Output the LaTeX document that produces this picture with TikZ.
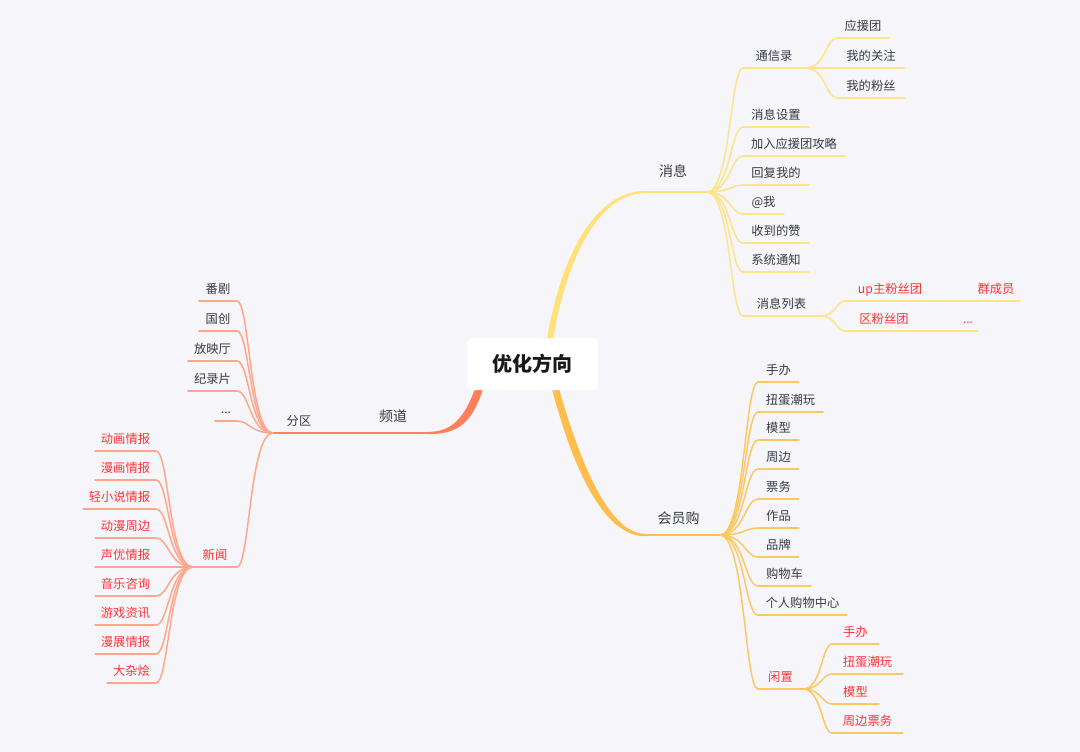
\documentclass[tikz,border=0pt]{standalone}
\usepackage{fontspec}
\setmainfont{Noto Sans CJK SC}
\usetikzlibrary{calc}
\definecolor{bg}{HTML}{F5F5FA}
\definecolor{txt}{HTML}{363B45}
\definecolor{mmred}{HTML}{FF3338}
\definecolor{orA}{HTML}{FF7F58}
\definecolor{orB}{HTML}{FFA68A}
\definecolor{yeA}{HTML}{FFE178}
\definecolor{yeB}{HTML}{FFE387}
\definecolor{goA}{HTML}{FFBE4C}
\definecolor{goB}{HTML}{FFC762}
\tikzset{
  leaftext/.style={font={\fontsize{9.2}{11}\selectfont}, text=txt, inner sep=0pt},
  redtext/.style={leaftext, text=mmred},
  bigtext/.style={font={\fontsize{10.5}{12}\selectfont}, text=txt, inner sep=0pt},
  ul/.style={line width=1.1pt, line cap=round},
  trunk/.style={line width=1.6pt, line cap=round},
  rootbox/.style={fill=white, rounded corners=4.5pt, minimum width=98.25pt,
    minimum height=39pt, inner sep=0pt, font={\fontsize{15}{18}\selectfont\bfseries}, text=black!90}
}
% name, x1, x2, y, text style, line colour, text
\newcommand\mmitem[7]{%
  \coordinate (#1L) at (#2,#4);
  \coordinate (#1R) at (#3,#4);
  \draw[ul,#6] (#1L) -- (#1R);
  \node[#5,anchor=base] (#1) at ({(#2+#3)/2},{#4-7.5}) {#7};
}
% colour, parent coordinate, child coordinate
\newcommand\mmlink[3]{%
  \edef\mmA{#2}\edef\mmB{#3}%
  \draw[ul,#1] let \p1=(\mmA), \p2=(\mmB) in
    (\p1) .. controls ({0.35*\x1+0.65*\x2},\y1) and ({0.35*\x1+0.65*\x2},\y2) .. (\p2);
}
\begin{document}
\begin{tikzpicture}[x=0.75pt,y=-0.75pt]
\useasboundingbox (0,0) rectangle (1080,752);
\fill[bg] (0,0) rectangle (1080,752);

% ---------- left: 频道 ----------
\coordinate (pdL) at (273,433);
\coordinate (pdR) at (428,433);
\fill[orA] (483,389) .. controls (472,423) and (458,434.2) .. (428,434.1)
  -- (428,431.9) .. controls (452,432) and (464,418) .. (475,389) -- cycle;
\draw[trunk,orA] (pdL) -- (pdR);
\node[bigtext,anchor=base] (pd) at (393,421) {频道};
\node[leaftext,anchor=base] (fq) at (299,425.5) {分区};

\mmitem{fj}{199}{237}{301}{leaftext}{orB}{番剧}
\mmitem{gc}{199}{237}{331}{leaftext}{orB}{国创}
\mmitem{fy}{188}{237}{361}{leaftext}{orB}{放映厅}
\mmitem{jl}{188}{237}{391}{leaftext}{orB}{纪录片}
\mmitem{dd}{215}{237}{421}{leaftext}{orB}{...}
\foreach \k in {fj,gc,fy,jl,dd} {\mmlink{orB}{pdL}{\k R}}

\mmitem{xw}{193}{237}{567}{redtext}{orB}{新闻}
\mmlink{orB}{pdL}{xwR}
\mmitem{dh}{95}{156}{451}{redtext}{orB}{动画情报}
\mmitem{mh}{95}{156}{480}{redtext}{orB}{漫画情报}
\mmitem{qx}{83}{156}{509}{redtext}{orB}{轻小说情报}
\mmitem{dm}{95}{156}{538}{redtext}{orB}{动漫周边}
\mmitem{sy}{95}{156}{567}{redtext}{orB}{声优情报}
\mmitem{yy}{95}{156}{596}{redtext}{orB}{音乐咨询}
\mmitem{yx}{95}{156}{625}{redtext}{orB}{游戏资讯}
\mmitem{mz}{95}{156}{654}{redtext}{orB}{漫展情报}
\mmitem{dz}{107}{156}{683}{redtext}{orB}{大杂烩}
\foreach \k in {dh,mh,qx,dm,sy,yy,yx,mz,dz} {\mmlink{orB}{xwL}{\k R}}

% ---------- right top: 消息 ----------
\coordinate (xxL) at (645,192);
\coordinate (xxR) at (707,192);
\fill[yeA] (547,339) .. controls (562,250) and (598,190.8) .. (645,191)
  -- (645,193) .. controls (601,193.5) and (568,252) .. (553,339) -- cycle;
\draw[trunk,yeA] (xxL) -- (xxR);
\node[bigtext,anchor=base] (xx) at (673,177) {消息};

\mmitem{tx}{743}{805}{68}{leaftext}{yeB}{通信录}
\mmitem{ya}{837}{889}{38}{leaftext}{yeB}{应援团}
\mmitem{wg}{837}{905}{68}{leaftext}{yeB}{我的关注}
\mmitem{wf}{837}{905}{98}{leaftext}{yeB}{我的粉丝}
\foreach \k in {ya,wg,wf} {\mmlink{yeB}{txR}{\k L}}
\mmitem{sz}{743}{809}{127}{leaftext}{yeB}{消息设置}
\mmitem{jr}{743}{845}{156}{leaftext}{yeB}{加入应援团攻略}
\mmitem{hf}{743}{809}{185}{leaftext}{yeB}{回复我的}
\mmitem{atme}{743}{784}{214}{leaftext}{yeB}{@我}
\mmitem{sd}{743}{809}{243}{leaftext}{yeB}{收到的赞}
\mmitem{xt}{743}{809}{272}{leaftext}{yeB}{系统通知}
\mmitem{lb}{743}{820}{316}{leaftext}{yeB}{消息列表}
\foreach \k in {tx,sz,jr,hf,atme,sd,xt,lb} {\mmlink{yeB}{xxR}{\k L}}
\mmitem{up}{845}{935}{301}{redtext}{yeB}{up主粉丝团}
\mmitem{qc}{972}{1020}{301}{redtext}{yeB}{群成员}
\mmitem{qf}{845}{923}{331}{redtext}{yeB}{区粉丝团}
\mmitem{dt}{958}{978}{331}{redtext}{yeB}{...}
\mmlink{yeB}{lbR}{upL}
\mmlink{yeB}{lbR}{qfL}
\mmlink{yeB}{upR}{qcL}
\mmlink{yeB}{qfR}{dtL}

% ---------- right bottom: 会员购 ----------
\coordinate (hgL) at (645,535);
\coordinate (hgR) at (720,535);
\fill[goA] (552,389) .. controls (571,462) and (602,536.4) .. (645,536.2)
  -- (645,533.8) .. controls (608,533.6) and (579,458) .. (559,389) -- cycle;
\draw[trunk,goA] (hgL) -- (hgR);
\node[bigtext,anchor=base] (hg) at (678.5,523) {会员购};

\mmitem{sb}{758}{799}{382}{leaftext}{goB}{手办}
\mmitem{nd}{758}{823}{412}{leaftext}{goB}{扭蛋潮玩}
\mmitem{mx}{758}{799}{440}{leaftext}{goB}{模型}
\mmitem{zb}{758}{799}{469}{leaftext}{goB}{周边}
\mmitem{pw}{758}{799}{499}{leaftext}{goB}{票务}
\mmitem{zp}{758}{799}{528}{leaftext}{goB}{作品}
\mmitem{pp}{758}{799}{557}{leaftext}{goB}{品牌}
\mmitem{gw}{758}{811}{586}{leaftext}{goB}{购物车}
\mmitem{gr}{758}{847}{615}{leaftext}{goB}{个人购物中心}
\mmitem{xz}{758}{803}{689}{redtext}{goB}{闲置}
\foreach \k in {sb,nd,mx,zb,pw,zp,pp,gw,gr,xz} {\mmlink{goB}{hgR}{\k L}}
\mmitem{sbb}{832}{879}{644}{redtext}{goB}{手办}
\mmitem{ndd}{832}{903}{674}{redtext}{goB}{扭蛋潮玩}
\mmitem{mxx}{832}{879}{704}{redtext}{goB}{模型}
\mmitem{zbb}{832}{903}{733}{redtext}{goB}{周边票务}
\foreach \k in {sbb,ndd,mxx,zbb} {\mmlink{goB}{xzR}{\k L}}

% ---------- centre ----------
\node[rootbox] (root) at (532.5,364) {优化方向};
\end{tikzpicture}
\end{document}
